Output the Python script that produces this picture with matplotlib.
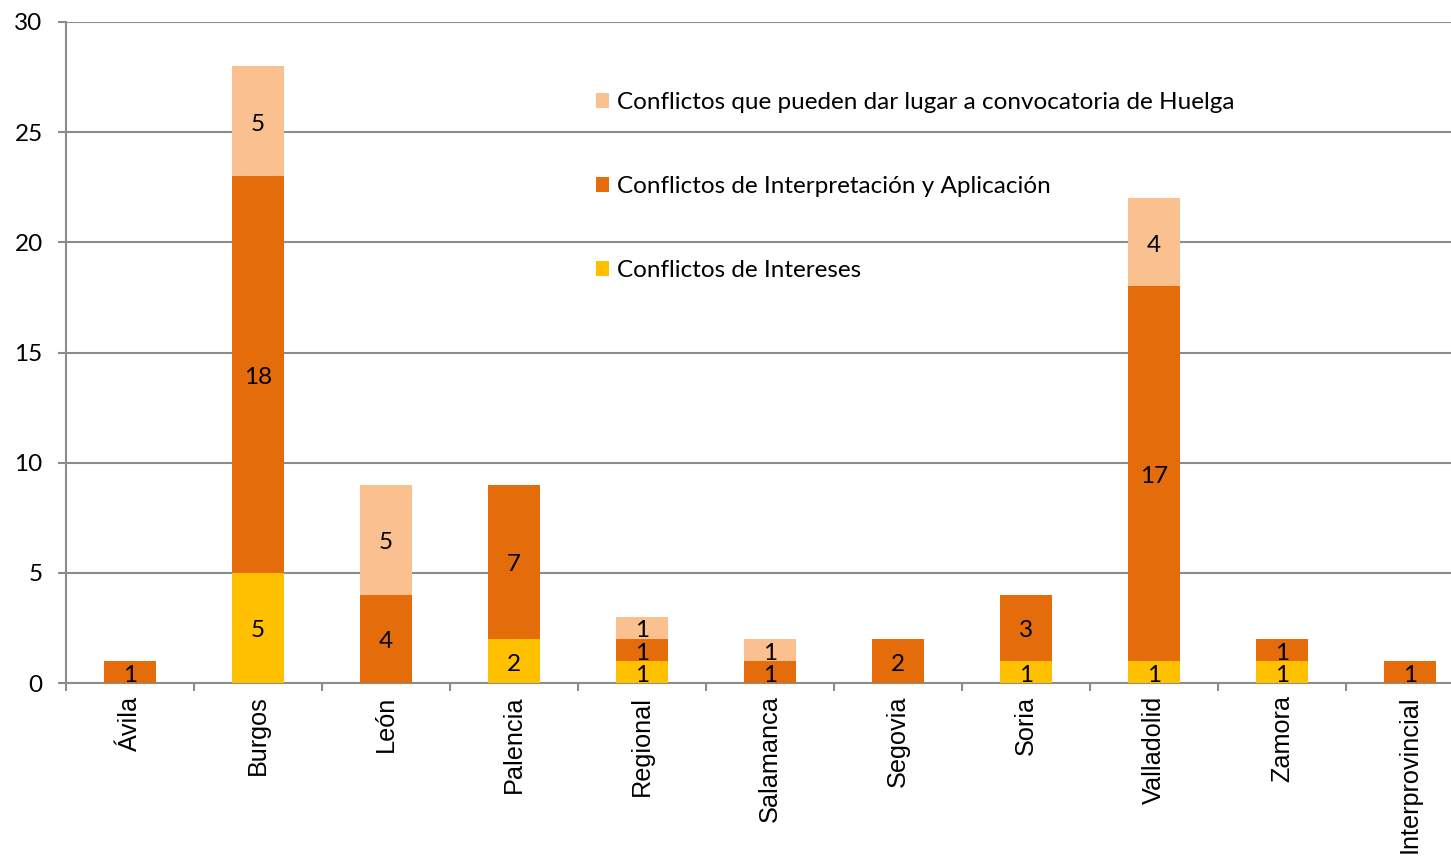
import numpy as np
import matplotlib
matplotlib.use("Agg")
import matplotlib.pyplot as plt

categories = ["Ávila", "Burgos", "León", "Palencia", "Regional", "Salamanca",
              "Segovia", "Soria", "Valladolid", "Zamora", "Interprovincial"]
intereses = [0, 5, 0, 2, 1, 0, 0, 1, 1, 1, 0]
interpretacion = [1, 18, 4, 7, 1, 1, 2, 3, 17, 1, 1]
huelga = [0, 5, 5, 0, 1, 1, 0, 0, 4, 0, 0]

series = [
    ("Conflictos de Intereses", intereses, "#FFC000"),
    ("Conflictos de Interpretación y Aplicación", interpretacion, "#E46C0A"),
    ("Conflictos que pueden dar lugar a convocatoria de Huelga", huelga, "#FAC090"),
]

num_font = "Lato"
cat_font = "Liberation Sans"
grey = "#8C8C8C"
fs = 17.5

W, H = 1451, 857
fig = plt.figure(figsize=(W / 100, H / 100), dpi=100)
# plot area runs a little past the right edge of the picture, as in the original
ax = fig.add_axes([66 / W, 1 - 683 / H, 1408 / W, (683 - 22) / H])

x = np.arange(len(categories))
bottom = np.zeros(len(categories))
handles = []
for name, vals, color in series:
    vals = np.array(vals, dtype=float)
    bars = ax.bar(x, vals, 0.41, bottom=bottom, color=color, label=name, zorder=3)
    handles.append(bars)
    for xi, v, b in zip(x, vals, bottom):
        if v > 0:
            ax.annotate("%d" % v, (xi, b + v / 2), xytext=(0, -2.2),
                        textcoords="offset points", ha="center", va="center",
                        fontsize=fs, family=num_font, color="black", zorder=4)
    bottom += vals

ax.set_xlim(-0.5, len(categories) - 0.5)
ax.set_ylim(0, 30)
ax.set_yticks(np.arange(0, 31, 5))
ax.yaxis.grid(True, color=grey, linewidth=1.5, zorder=0)
ax.set_axisbelow(True)

for s in ["top", "right"]:
    ax.spines[s].set_visible(False)
for s in ["left", "bottom"]:
    ax.spines[s].set_color(grey)
    ax.spines[s].set_linewidth(1.5)

ax.tick_params(axis="y", length=5.8, width=1.5, color=grey, pad=11)
for lab in ax.get_yticklabels():
    lab.set_fontfamily(num_font)
    lab.set_fontsize(fs)

# category ticks at the boundaries, labels centred under bars
ax.set_xticks(np.arange(len(categories) + 1) - 0.5)
ax.set_xticklabels([])
ax.set_xticks(x, minor=True)
ax.set_xticklabels(categories, minor=True, rotation=90, va="top",
                   fontsize=18.2, family=cat_font)
ax.tick_params(axis="x", which="major", length=5.8, width=1.5, color=grey)
ax.tick_params(axis="x", which="minor", length=0, pad=9)

leg = ax.legend(handles[::-1], [s[0] for s in series][::-1],
                loc="upper left", bbox_to_anchor=(596 / W, 1 - 92 / H),
                bbox_transform=fig.transFigure, frameon=False,
                prop={"family": num_font, "size": fs},
                handlelength=0.55, handleheight=0.55, handletextpad=0.3,
                labelspacing=2.6, borderpad=0, borderaxespad=0)

fig.savefig("out.png", dpi=100)
